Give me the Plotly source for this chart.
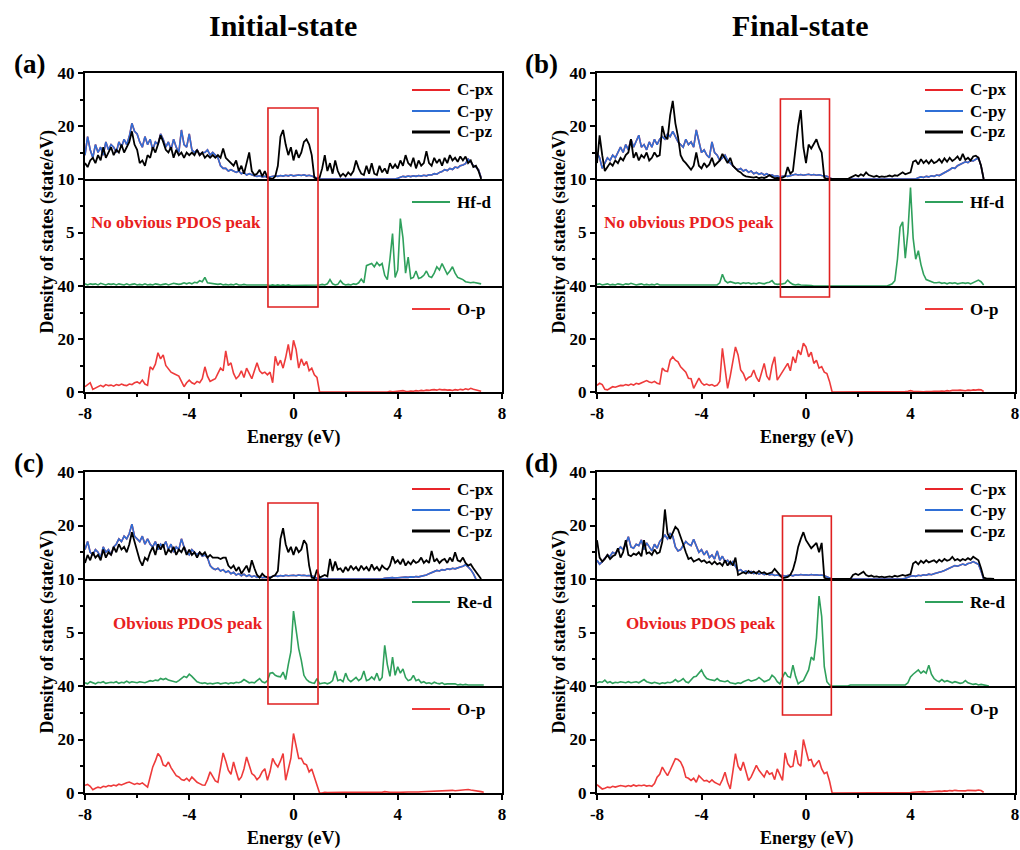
import plotly.graph_objects as go

# ---------------- data (energy grid in eV, PDOS in state/eV) ----------------
energy = [
    -8.0, -7.9, -7.8, -7.7, -7.6, -7.5, -7.4, -7.3, -7.2, -7.1,
    -7.0, -6.9, -6.8, -6.7, -6.6, -6.5, -6.4, -6.3, -6.2, -6.1,
    -6.0, -5.9, -5.8, -5.7, -5.6, -5.5, -5.4, -5.3, -5.2, -5.1,
    -5.0, -4.9, -4.8, -4.7, -4.6, -4.5, -4.4, -4.3, -4.2, -4.1,
    -4.0, -3.9, -3.8, -3.7, -3.6, -3.5, -3.4, -3.3, -3.2, -3.1,
    -3.0, -2.9, -2.8, -2.7, -2.6, -2.5, -2.4, -2.3, -2.2, -2.1,
    -2.0, -1.9, -1.8, -1.7, -1.6, -1.5, -1.4, -1.3, -1.2, -1.1,
    -1.0, -0.9, -0.8, -0.7, -0.6, -0.5, -0.4, -0.3, -0.2, -0.1,
    0.0, 0.1, 0.2, 0.3, 0.4, 0.5, 0.6, 0.7, 0.8, 0.9,
    1.0, 1.1, 1.2, 1.3, 1.4, 1.5, 1.6, 1.7, 1.8, 1.9,
    2.0, 2.1, 2.2, 2.3, 2.4, 2.5, 2.6, 2.7, 2.8, 2.9,
    3.0, 3.1, 3.2, 3.3, 3.4, 3.5, 3.6, 3.7, 3.8, 3.9,
    4.0, 4.1, 4.2, 4.3, 4.4, 4.5, 4.6, 4.7, 4.8, 4.9,
    5.0, 5.1, 5.2, 5.3, 5.4, 5.5, 5.6, 5.7, 5.8, 5.9,
    6.0, 6.1, 6.2, 6.3, 6.4, 6.5, 6.6, 6.7, 6.8, 6.9,
    7.0, 7.1, 7.2, 7.3, 7.4, 7.5, 7.6, 7.7, 7.8, 7.9,
]

# ----- (a) initial state, Hf -----
a_cpy = [
    9, 16, 11, 8, 13, 10, 12, 9, 14, 11,
    13, 12, 10, 14, 12, 15, 13, 16, 21, 18,
    17, 14, 12, 16, 13, 15, 11, 14, 13, 17,
    15, 12, 14, 11, 15, 12, 10, 18.5, 13, 12,
    17, 11, 10, 11, 9, 10, 10, 11, 9, 10,
    9, 8, 5, 4, 4, 3, 3.5, 3, 2.5, 3,
    2, 2.5, 1.5, 2, 1.5, 1.2, 1, 1.2, 0.8, 1,
    0.6, 0.8, 1, 1.2, 1, 1.3, 1.1, 1.4, 1.2, 1.5,
    1.2, 1.4, 1.5, 1.3, 1.6, 1.2, 1.4, 1.1, 0.8, 0.5,
    0, 0, 0, 0, 0, 0, 0, 0, 0, 0,
    0, 0, 0, 0, 0, 0, 0, 0, 0, 0,
    0, 0, 0, 0, 0, 0, 0, 0, 0, 0,
    0.3, 0.8, 1, 0.8, 1.1, 0.9, 1.2, 1, 1.3, 1.1,
    1.4, 1.2, 1.6, 1.5, 2, 1.8, 2.5, 2.8, 3.5, 3.2,
    4, 3.6, 4.5, 4.2, 5, 5.3, 5.8, 7.5, 6.5, 5,
    4.5, 3.5, 0.5,
]
a_cpz = [
    6, 4.5, 7, 8, 6, 9, 7, 12, 8, 10,
    12, 9, 11, 10, 13, 10, 12, 14, 18, 13,
    11, 6, 7, 5, 9, 8, 12, 10, 13, 16.5,
    14, 11, 10, 12, 8, 11, 9, 10, 8, 10,
    9, 10, 9, 11, 9, 10, 8, 9, 8, 9,
    8, 9, 8, 11.5, 8, 7, 6, 5, 7, 3,
    5, 2, 6, 10, 3, 1.5, 2, 3.5, 1, 3,
    0.5, 0.2, 0, 1, 5, 16, 18.5, 13, 9, 12,
    7, 11, 8, 10, 14, 15, 13, 9, 0.5, 0,
    0.5, 4, 9, 3, 6, 2, 7, 3, 1, 2,
    1, 2.5, 1.5, 3, 7, 4, 2, 1.5, 5, 2,
    6, 2, 1.5, 5, 2.5, 4, 2, 6, 4, 5.5,
    4, 7, 5, 9, 6, 5, 8, 4, 7, 5,
    6, 10.5, 6, 5, 8, 6, 7.5, 5, 8, 6,
    9, 7, 8, 6.5, 8.5, 7, 8.5, 6, 7, 4.5,
    5, 3, 0,
]
a_hfd = [
    0.2, 0.1, 0.2, 0.15, 0.2, 0.1, 0.25, 0.15, 0.1, 0.2,
    0.15, 0.2, 0.1, 0.2, 0.15, 0.1, 0.2, 0.1, 0.15, 0.2,
    0.1, 0.15, 0.1, 0.2, 0.1, 0.15, 0.1, 0.2, 0.15, 0.1,
    0.15, 0.2, 0.1, 0.15, 0.25, 0.2, 0.15, 0.2, 0.3, 0.2,
    0.3, 0.2, 0.35, 0.3, 0.5, 0.4, 0.8, 0.3, 0.25, 0.2,
    0.2, 0.15, 0.2, 0.1, 0.15, 0.1, 0.15, 0.1, 0.2, 0.1,
    0.1, 0.15, 0.1, 0.1, 0.15, 0.1, 0.1, 0.15, 0.1, 0.1,
    0.1, 0.05, 0.1, 0.05, 0.1, 0.05, 0.1, 0.05, 0.1, 0.05,
    0.05, 0.1, 0.05, 0.1, 0.05, 0.1, 0.05, 0.1, 0.05, 0.1,
    0.1, 0.15, 0.1, 0.2, 0.6, 0.2, 0.1, 0.15, 0.5, 0.2,
    0.1, 0.15, 0.1, 0.2, 0.15, 0.3, 0.65, 0.3, 1.9, 2.0,
    2.1, 1.8, 2.2, 1.9, 2.1, 1.0, 0.6, 2.5, 4.9, 0.8,
    1.5, 6.3, 4.5, 1.2, 2.7, 0.7, 0.8, 1.4, 0.7, 0.8,
    1.0, 1.4, 0.9, 0.8, 1.2, 1.8, 1.5, 2.1, 1.6, 1.1,
    1.4, 1.8, 1.2, 0.8, 0.7, 0.6, 0.4, 0.35, 0.3, 0.35,
    0.3, 0.25, 0.2,
]
a_op = [
    2, 2.8, 3.5, 1, 1.5, 2.2, 2.5, 2, 2.8, 2.4,
    2.6, 2.2, 2.8, 2.5, 3.0, 2.6, 2.4, 3.0, 2.8, 3.5,
    3.8, 3.2, 4.5, 3.0, 2.5, 9.5, 8.5, 10.5, 14.8, 12.5,
    14, 10, 8.5, 7.5, 7, 6.5, 6, 4, 2, 3.5,
    4.5, 3.5, 3, 4, 3.5, 5, 9.5, 6, 4, 4.5,
    5, 7, 9, 8, 15.5, 10, 11, 7, 5, 6,
    8, 5.5, 9, 7, 5, 8, 11, 8, 7, 7.5,
    6.5, 7.5, 3.5, 13.5, 10, 12, 9, 13, 18, 12,
    19.5, 16, 9, 12.5, 10, 11.5, 8, 9, 6.5, 5.5,
    0, 0, 0, 0, 0, 0, 0, 0, 0, 0,
    0, 0, 0, 0, 0, 0, 0, 0, 0, 0,
    0, 0, 0, 0, 0, 0, 0, 0.3, 0.1, 0.2,
    0.3, 0.2, 0.5, 0.3, 0.2, 0.4, 0.3, 0.5, 0.4, 0.6,
    0.5, 0.7, 0.6, 0.8, 0.9, 0.7, 1.0, 0.8, 0.9, 0.7,
    0.8, 0.6, 0.9, 0.7, 1.0, 0.8, 1.2, 0.9, 1.4, 1.0,
    0.8, 0.6, 0.3,
]

# ----- (b) final state, Hf -----
b_cpy = [
    10, 8, 4, 6, 8, 7, 9, 8, 10, 12,
    10, 13, 11, 15, 12, 14, 16.5, 12, 13, 11,
    14, 12, 15, 13, 15, 16, 15, 17, 16, 18,
    16, 14, 13, 12, 15, 13, 14, 12, 18.5, 14,
    10, 11, 9, 8, 14, 10, 9, 7, 8, 9,
    7, 6, 5, 4, 3.5, 4, 3, 3.5, 2.5, 3,
    2, 2.5, 1.8, 2.2, 1.5, 2, 1.3, 1.6, 1, 1.2,
    0.8, 1, 1.2, 1, 1.3, 1.5, 1.8, 1.5, 1.7, 1.4,
    1.6, 1.8, 1.5, 1.7, 1.4, 1.6, 1.3, 1.2, 1.0, 0.5,
    0, 0, 0, 0, 0, 0, 0, 0, 0, 0,
    0, 0, 0, 0, 0, 0, 0, 0, 0, 0,
    0, 0, 0, 0, 0, 0, 0, 0, 0, 0,
    0, 0, 0, 0.5, 0.8, 0.6, 1, 0.8, 1.2, 1,
    1.5, 1.3, 1.8, 2.2, 2.8, 3.5, 4.2, 4, 5, 5.5,
    5.8, 6.5, 6.2, 7, 6.8, 7.5, 8, 5, 0,
]
b_cpz = [
    6, 16.5, 9, 3, 4.5, 6, 5, 7, 6, 8,
    7, 9, 10, 15, 8, 10, 7, 9, 8, 10,
    7, 8, 10, 8.5, 9, 20, 16, 15, 24, 29.5,
    21, 16, 9, 7, 6, 4.5, 3.5, 5, 10, 5,
    4, 6, 4.5, 5.5, 8, 5, 6, 7, 9.5, 8,
    6, 8, 5, 4, 3, 2.5, 1.5, 1, 0.8, 0.5,
    0.5, 0.8, 0.3, 0.6, 0.4, 0.8, 1.5, 0.8, 0.3, 0.4,
    0.3, 0.5, 1, 4.5, 2, 3, 12, 20, 26, 12,
    6, 13, 11.5, 13, 15, 12, 10, 0.5, 0, 0,
    0, 0, 0, 0, 0, 0, 0, 0.5, 1, 1.5,
    1, 1.8, 1.2, 2.5, 1.5, 1, 0.8, 1.2, 0.7, 1,
    0.8, 1, 1.3, 0.9, 1.4, 1.2, 1.8, 2.5, 1.8, 2.2,
    2.5, 6.5, 7, 5.5, 7.5, 6, 7, 5.8, 7.2, 6,
    6.5, 7.5, 6.2, 7.8, 6.5, 8, 6.8, 7.5, 8.5, 7,
    9.5, 7.2, 8, 7, 8.5, 8.8, 8, 5, 0,
]
b_hfd = [
    0.15, 0.2, 0.1, 0.15, 0.2, 0.1, 0.15, 0.1, 0.2, 0.15,
    0.1, 0.2, 0.15, 0.25, 0.2, 0.1, 0.15, 0.2, 0.1, 0.15,
    0.1, 0.15, 0.1, 0.2, 0.1, 0.1, 0.15, 0.1, 0.1, 0.15,
    0.1, 0.1, 0.15, 0.1, 0.1, 0.15, 0.1, 0.1, 0.1, 0.15,
    0.1, 0.1, 0.15, 0.1, 0.1, 0.15, 0.1, 0.3, 1.1, 0.5,
    0.3, 0.4, 0.3, 0.25, 0.3, 0.2, 0.3, 0.25, 0.3, 0.2,
    0.25, 0.2, 0.3, 0.25, 0.2, 0.3, 0.35, 0.5, 0.2, 0.15,
    0.15, 0.2, 0.25, 0.55, 0.3, 0.15, 0.1, 0.15, 0.1, 0.1,
    0.1, 0.05, 0.05, 0, 0, 0, 0, 0, 0, 0,
    0, 0, 0, 0, 0, 0, 0, 0, 0, 0,
    0, 0, 0, 0, 0, 0, 0, 0, 0, 0,
    0, 0, 0.1, 0.2, 0.5, 2.5, 5.5, 6, 2.6, 5,
    9.2, 4.5, 2.5, 3.3, 2.0, 1.1, 0.6, 0.5, 0.4, 0.3,
    0.3, 0.35, 0.25, 0.3, 0.2, 0.3, 0.25, 0.3, 0.2, 0.25,
    0.3, 0.25, 0.3, 0.2, 0.3, 0.4, 0.55, 0.4, 0.1,
]
b_op = [
    2.5, 3.3, 2.8, 1, 0.8, 1.5, 2, 1.8, 2.2, 2.5,
    2.4, 2.8, 2.5, 3, 2.6, 3.3, 3, 3.5, 3.8, 4.3,
    3.8, 3.5, 4, 3.3, 3, 9, 8, 7.7, 12, 13.3,
    12, 11.4, 9.5, 8.3, 7.5, 5.2, 5, 1.4, 3.5, 5.2,
    3.5, 2.6, 3, 2.5, 2.8, 2.2, 2.6, 4, 16.5, 9,
    1.4, 6, 12, 17, 14, 8.3, 7, 4.5, 5.5, 6,
    8.3, 5.5, 3.9, 7, 10.8, 6, 4.5, 10, 13.3, 4.5,
    6, 7.7, 9.5, 10.8, 8, 13.3, 11, 15.8, 14, 18.4,
    17, 13.3, 15, 10.8, 12, 9, 9.6, 7.5, 7, 4,
    0, 0, 0, 0, 0, 0, 0, 0, 0, 0,
    0, 0, 0, 0, 0, 0, 0, 0, 0, 0,
    0, 0, 0, 0, 0, 0, 0, 0, 0.2, 0.3,
    0.5, 0.3, 0.2, 0.1, 0.2, 0.1, 0.2, 0.1, 0.2, 0.3,
    0.2, 0.3, 0.4, 0.3, 0.5, 0.4, 0.6, 0.5, 0.6, 0.7,
    0.6, 0.5, 0.7, 0.6, 0.8, 0.7, 0.9, 0.8, 0.2,
]

# ----- (c) initial state, Re -----
c_cpy = [
    11, 14, 10, 9, 11, 10, 8, 12, 10, 11,
    9, 12, 13, 15, 14, 16, 15, 17, 20.5, 16,
    15, 14, 16, 13, 15, 13, 12, 14, 11, 13,
    12, 14, 11, 13, 10, 12, 11, 15, 12, 10,
    9, 11, 10, 9, 10, 8.5, 9, 8, 5, 4,
    3.5, 4, 3, 3.5, 2.5, 3, 2, 2.5, 1.5, 2,
    1.2, 1.8, 1, 1.5, 0.8, 1.2, 0.6, 0.9, 0.5, 0.7,
    0.5, 0.8, 1, 1.2, 1, 1.3, 1.1, 1.4, 1.2, 1.3,
    1.4, 1.2, 1.5, 1.3, 1.4, 1.2, 1.3, 1.1, 0.8, 0.2,
    0, 0, 0, 0, 0, 0, 0, 0, 0, 0,
    0, 0, 0, 0, 0, 0, 0, 0, 0, 0,
    0, 0, 0, 0, 0, 0.3, 0.4, 0.3, 0.5, 0.4,
    0.5, 0.6, 0.5, 0.7, 0.6, 0.8, 0.7, 0.9, 0.8, 1,
    1.2, 1.5, 2, 2.5, 2.8, 3.2, 3, 3.5, 3.3, 3.8,
    3.6, 4, 3.8, 4.3, 4.5, 4.8, 5.3, 4.5, 3.5, 2,
    0,
]
c_cpz = [
    6, 9, 7, 10, 8, 9, 7, 11, 8, 10,
    9, 12, 10, 13, 11, 12, 10, 13, 17.5, 14,
    10, 7, 5, 8, 7, 10, 12, 9, 13, 11,
    13, 9, 11, 10, 12, 9, 11, 10, 12, 9,
    11, 9, 10, 8, 10, 9, 10, 8, 9, 8,
    8, 8, 7.5, 8, 8, 5, 4, 5, 3, 4.5,
    2, 3.5, 5, 2.5, 7, 4, 1.5, 0.5, 2, 1,
    0.5, 0.3, 1, 1.5, 3, 15, 19, 13, 10, 12,
    9, 12, 10, 11, 14.5, 13, 5, 0.5, 0.3, 3.5,
    0.5, 1, 1.5, 1, 7.5, 3, 6.5, 3.5, 4, 2.5,
    4.5, 3, 5, 3.5, 4.5, 3, 5, 3.5, 4.5, 3,
    5.5, 3.5, 4.5, 3, 5, 4, 3.5, 5, 8.5, 6,
    7, 5.5, 7.5, 5, 6.5, 5.5, 7, 6, 6.5, 8,
    6, 7, 6, 10.5, 6.5, 7.5, 6, 7, 7.5, 6,
    8, 6.5, 10, 7, 6.5, 8, 6, 5, 5.5, 4,
    2.5, 1, 0,
]
c_red = [
    0.3, 0.2, 0.4, 0.3, 0.2, 0.35, 0.3, 0.4, 0.25, 0.3,
    0.35, 0.3, 0.4, 0.25, 0.35, 0.3, 0.45, 0.3, 0.4, 0.35,
    0.3, 0.4, 0.35, 0.3, 0.4, 0.5, 0.45, 0.55, 0.5, 0.7,
    0.6, 0.7, 0.55, 0.5, 0.4, 0.35, 0.5, 0.7, 0.9, 0.8,
    1.1, 0.9, 0.6, 0.4, 0.3, 0.25, 0.3, 0.2, 0.25, 0.2,
    0.25, 0.3, 0.2, 0.25, 0.3, 0.2, 0.3, 0.25, 0.35, 0.3,
    0.4, 0.6, 0.45, 0.3, 0.35, 0.3, 0.5, 0.7, 0.4, 0.3,
    0.5, 1.2, 1.25, 1.0, 0.9, 0.85, 1.3, 0.6, 2.0, 3.2,
    7.0, 5.2, 3.5, 2.4, 1.0, 0.6, 0.4, 0.3, 0.25, 0.7,
    0.2, 0.25, 0.3, 0.2, 0.3, 0.5, 1.4, 0.5, 0.6, 0.4,
    1.2, 0.6, 0.4, 0.6, 0.8, 0.5, 0.7, 1.4, 0.5, 0.6,
    0.85, 0.6, 1.2, 0.5, 0.8, 3.8, 2.0, 0.9, 2.7, 1.0,
    1.8, 1.2, 1.6, 0.8, 0.5, 0.6, 1.0, 0.5, 0.6, 0.3,
    0.4, 0.25, 0.3, 0.2, 0.35, 0.25, 0.2, 0.3, 0.15, 0.2,
    0.2, 0.15, 0.2, 0.1, 0.15, 0.1, 0.15, 0.1, 0.1, 0.15,
    0.1, 0.1, 0.15, 0.1,
]
c_op = [
    2.9, 3.2, 2.5, 1.25, 1.8, 2.2, 1.9, 2.5, 2.3, 2.8,
    2.6, 3, 2.7, 3.3, 3, 3.5, 3.8, 4.1, 3.5, 3.2,
    3.6, 3.3, 3.8, 3, 2.2, 6, 9.75, 12, 14.75, 13.5,
    10.5, 10, 11.6, 9.5, 7.9, 6.5, 6, 5, 4.75, 5.5,
    4.5, 6, 5, 4, 3.5, 3, 2.9, 5, 7.9, 6,
    4.5, 4, 9, 15, 12, 8.5, 7, 11.6, 8, 4.75,
    6, 9, 13.5, 10, 7.25, 6.5, 5, 6, 8, 9.1,
    4.75, 8, 12.9, 11, 9.75, 12, 14.75, 4.75, 9, 13,
    22.25, 17, 12.9, 13, 11, 10.5, 7.9, 9, 6, 3,
    0, 0, 0.3, 0.2, 0.25, 0.2, 0.3, 0.25, 0.2, 0.3,
    0.25, 0.2, 0.3, 0.2, 0.25, 0.3, 0.2, 0.25, 0.3, 0.2,
    0.25, 0.3, 0.2, 0.3, 0.25, 0.5, 0.3, 0.25, 0.3, 0.4,
    0.3, 0.25, 0.35, 0.3, 0.4, 0.35, 0.3, 0.4, 0.35, 0.45,
    0.5, 0.6, 0.7, 0.8, 0.75, 0.9, 0.85, 0.95, 0.9, 1.0,
    0.9, 1.0, 0.85, 0.95, 1.1, 1.0, 1.2, 1.3, 1.1, 1.0,
    0.8, 0.6, 0.5, 0.3,
]

# ----- (d) final state, Re -----
d_cpy = [
    7, 5.5, 6.5, 8, 9, 8.5, 10, 9.5, 11, 12,
    11, 13, 15.8, 12, 11.5, 13, 12.5, 14.6, 11, 13.5,
    12, 10.5, 13, 11.5, 14, 15, 16.4, 15, 17, 16,
    12, 10.5, 11, 12.5, 14, 13, 12.5, 14.8, 12, 10,
    11, 9, 10.5, 8, 9, 7.5, 10.5, 7, 8.5, 6.5,
    7, 5.5, 6.5, 4.5, 3, 3.5, 2.5, 3, 2.2, 2.8,
    2, 2.5, 1.8, 2.2, 1.6, 2, 1.5, 1.8, 1.3, 1.5,
    1.2, 1.4, 1, 1.3, 1.5, 1.2, 1.6, 1.4, 1.7, 1.5,
    1.6, 1.4, 1.7, 1.5, 1.6, 1.4, 1.5, 1.2, 0.8, 0.3,
    0, 0, 0, 0, 0, 0, 0, 0, 0, 0,
    0, 0, 0, 0, 0, 0, 0, 0, 0, 0,
    0, 0, 0, 0, 0, 0, 0, 0, 0.3, 0.8,
    1, 1.2, 1, 1.4, 1.2, 1.6, 1.4, 1.8, 1.6, 2,
    2.2, 2.5, 2.8, 3.2, 3.6, 4.2, 4.6, 5, 4.8, 5.3,
    5.6, 5.2, 5.8, 6, 6.5, 6, 5.5, 3, 0,
]
d_cpz = [
    14.5, 8, 6.5, 7.5, 9, 7.5, 8.5, 9, 11.5, 8,
    10, 14.5, 9, 8.5, 9.5, 9, 10, 8.5, 14.5, 9.5,
    10, 9, 11, 9.5, 10, 14, 26, 17, 15, 17,
    19.5, 18.5, 16, 13, 10, 7.5, 8, 6.5, 7, 7.5,
    6.5, 7, 6, 6.5, 5.5, 6.5, 5.5, 6, 5, 7,
    5, 6.5, 5, 8, 1.5, 2, 2.5, 2, 3, 2.2,
    2.8, 2, 3, 2.2, 2.5, 1.8, 2.2, 2.5, 3.8, 2.5,
    1.5, 0.3, 0.5, 0.8, 1.5, 3.5, 7, 12, 15, 17.5,
    14.5, 13, 11.5, 12.5, 13.5, 10, 13.5, 0.5, 0, 0,
    0, 0, 0, 0, 0, 0, 0, 0, 1.5, 2,
    1.5, 2, 2.7, 1.5, 1, 1.3, 0.8, 1, 0.7, 0.9,
    0.6, 0.8, 1, 0.7, 1.2, 0.9, 1.1, 1.5, 1.2, 1.4,
    1.8, 5.8, 6.5, 5.5, 6.8, 6, 7, 6.2, 6.5, 7,
    6.2, 7.2, 6.5, 7.5, 6.8, 7.2, 8.3, 7, 7.5, 6.8,
    7.5, 7, 7.8, 7.2, 8.3, 7.5, 7, 4, 0.5, 0.2,
    0.2, 0.1, 0,
]
d_red = [
    0.3, 0.4, 0.35, 0.55, 0.3, 0.4, 0.25, 0.35, 0.3, 0.4,
    0.35, 0.3, 0.4, 0.3, 0.35, 0.4, 0.3, 0.45, 0.6, 0.4,
    0.3, 0.25, 0.35, 0.3, 0.2, 0.3, 0.25, 0.35, 0.3, 0.4,
    0.6, 0.4, 0.5, 0.7, 0.4, 0.3, 0.6, 0.85, 0.9, 1.2,
    1.5, 1.0, 0.7, 0.6, 0.55, 0.5, 0.7, 0.5, 0.45, 0.4,
    0.5, 0.3, 0.25, 0.2, 0.3, 0.25, 0.4, 0.5, 0.6, 0.45,
    0.55, 0.6, 0.8, 0.6, 0.4, 0.5, 0.6, 1.0, 0.8, 0.4,
    0.2, 0.8, 1.3, 0.9, 0.8, 1.95, 0.9, 0.2, 0.4, 0.5,
    1.0, 1.5, 2.7, 2.4, 4.5, 8.4, 6.5, 1.8, 0.4, 0.1,
    0, 0, 0, 0, 0, 0, 0, 0.1, 0.1, 0.1,
    0.1, 0.1, 0.1, 0.1, 0.1, 0.1, 0.1, 0.1, 0.1, 0.1,
    0.1, 0.1, 0.1, 0.1, 0.1, 0.1, 0.1, 0.1, 0.1, 0.3,
    0.85, 1.1, 1.3, 1.5, 1.2, 1.4, 1.2, 1.95, 1.1, 0.7,
    0.5, 0.4, 0.6, 0.4, 0.5, 0.4, 0.3, 0.4, 0.3, 0.25,
    0.3, 0.5, 0.3, 0.2, 0.15, 0.2, 0.1, 0.15, 0.1, 0.05,
    0,
]
d_op = [
    3.1, 2.2, 1.5, 1.8, 2.2, 2, 2.5, 2.2, 2.4, 2.8,
    2.6, 2.4, 2.8, 2.5, 3, 2.6, 2.9, 2.7, 3, 2.6,
    2.8, 2.5, 3.5, 5.9, 7, 9.7, 8, 6.5, 8.5, 10.5,
    12.8, 12.5, 11.6, 9.5, 5.9, 5.5, 4.7, 5.5, 4, 6.5,
    5.5, 4.5, 4.7, 4, 4.9, 4, 3.5, 3, 5, 7.8,
    4, 1.5, 8, 14.7, 10, 8.4, 11.6, 8, 4.7, 6,
    8, 10.3, 8.5, 7.2, 6, 8.4, 7, 7.5, 5, 9,
    7, 4.7, 15, 11, 9.7, 10, 16, 11, 10, 20,
    16, 12.2, 12.5, 9.7, 11, 12.2, 9, 7.2, 7.8, 4.5,
    0, 0, 0, 0, 0, 0, 0, 0, 0, 0,
    0, 0, 0, 0, 0, 0, 0, 0, 0, 0,
    0, 0, 0, 0, 0, 0, 0, 0, 0, 0,
    0.2, 0.3, 0.4, 0.3, 0.4, 0.5, 0.4, 0.5, 0.6, 0.5,
    0.6, 0.7, 0.6, 0.8, 0.7, 0.9, 0.8, 1.0, 0.9, 0.8,
    0.9, 0.8, 1.0, 0.9, 0.8, 0.9, 1.1, 0.9, 0.3,
]

x_ticks = [-8, -4, 0, 4, 8]
x_ticklabels = ["-8", "-4", "0", "4", "8"]
col_titles = ["Initial-state", "Final-state"]


def pad(v):
    """Series stop where the curve ends; fill the rest of the grid with gaps."""
    return list(v) + [None] * (len(energy) - len(v))


# ---------------- layout geometry (pixels) ----------------
W, H = 1020, 850
FONT = "Liberation Serif, Times New Roman, serif"
RED_PX = "#e8252a"
BLUE = "#2f6fd6"
GREEN = "#2fa05c"
RED_OP = "#ee3a3a"


def fx(p):
    return p / W


def fy(p):
    return 1 - p / H


panels = [
    dict(label="(a)", metal="Hf-d", note="No obvious PDOS peak", x0=85, x1=502,
         rows=(73, 179, 286, 392), cpy=a_cpy, cpz=a_cpz, md=a_hfd, op=a_op,
         box=(-0.98, 0.94, 108, 307), note_dx=91),
    dict(label="(b)", metal="Hf-d", note="No obvious PDOS peak", x0=597, x1=1015,
         rows=(73, 179, 286, 392), cpy=b_cpy, cpz=b_cpz, md=b_hfd, op=b_op,
         box=(-0.98, 0.90, 99, 297), note_dx=92),
    dict(label="(c)", metal="Re-d", note="Obvious PDOS peak", x0=85, x1=502,
         rows=(472, 579, 686, 793), cpy=c_cpy, cpz=c_cpz, md=c_red, op=c_op,
         box=(-0.98, 0.94, 503, 704), note_dx=103),
    dict(label="(d)", metal="Re-d", note="Obvious PDOS peak", x0=597, x1=1015,
         rows=(472, 579, 686, 793), cpy=d_cpy, cpz=d_cpz, md=d_red, op=d_op,
         box=(-0.90, 0.97, 516, 715), note_dx=104),
]

fig = go.Figure()
layout = {}
shapes = []
annotations = []

tickfont = dict(family=FONT, size=17, color="black", weight="bold")


def afont(size, color="black"):
    return dict(family=FONT, size=size, color=color, weight="bold")


for i, p in enumerate(panels):
    x0, x1 = p["x0"], p["x1"]
    t, d1, d2, b = p["rows"]
    doms = [(d1, t), (d2, d1), (b, d2)]
    yranges = [[0, 40], [0, 10], [0, 40]]
    ytv = [[20, 40], [5, 10], [0, 20, 40]]
    yminor = [[10, 30], [2.5, 7.5], [10, 30]]
    series = [
        [(p["cpy"], RED_PX, 1.6), (p["cpy"], BLUE, 1.6), (p["cpz"], "black", 1.8)],
        [(p["md"], GREEN, 1.6)],
        [(p["op"], RED_OP, 1.6)],
    ]
    for j in range(3):
        n = 3 * i + j + 1
        sx = "" if n == 1 else str(n)
        for vals, col, w in series[j]:
            fig.add_trace(go.Scatter(
                x=energy, y=pad(vals), mode="lines",
                line=dict(color=col, width=w),
                xaxis="x" + sx, yaxis="y" + sx, showlegend=False,
                hoverinfo="skip"))
        bottom = (j == 2)
        # top plot: frame lines top & bottom; lower plots: only their bottom line
        xa = dict(domain=[fx(x0), fx(x1)], anchor="y" + sx, range=[-8, 8],
                  showline=True, mirror=(j == 0), linecolor="black", linewidth=2,
                  showgrid=False, zeroline=False, automargin=False)
        if bottom:
            xa.update(tickvals=x_ticks, ticktext=x_ticklabels, ticks="outside",
                      ticklen=5, tickwidth=1.5,
                      tickcolor="black", tickfont=tickfont,
                      ticklabeloverflow="allow",
                      minor=dict(tickvals=[-6, -2, 2, 6], ticks="outside",
                                 ticklen=3, tickwidth=1.5, tickcolor="black"))
        else:
            xa.update(ticks="", showticklabels=False)
        ya = dict(domain=[fy(doms[j][0]), fy(doms[j][1])], anchor="x" + sx,
                  range=yranges[j], tickvals=ytv[j], ticks="outside", ticklen=5,
                  tickwidth=1.5, tickcolor="black", tickfont=tickfont,
                  showline=True, mirror=True, linecolor="black", linewidth=2,
                  showgrid=False, zeroline=False, automargin=False,
                  ticklabeloverflow="allow",
                  minor=dict(tickvals=yminor[j], ticks="outside", ticklen=3,
                             tickwidth=1.5, tickcolor="black"))
        layout["xaxis" + sx] = xa
        layout["yaxis" + sx] = ya

    # red highlight box spanning the three stacked plots
    bsx = str(3 * i + 3)
    bx0, bx1, by0, by1 = p["box"]
    shapes.append(dict(type="rect", xref="x" + bsx, yref="paper",
                       x0=bx0, x1=bx1, y0=fy(by1), y1=fy(by0),
                       line=dict(color="#e02020", width=1.6), fillcolor="rgba(0,0,0,0)"))

    # in-plot legends
    leg = [("C-px", RED_PX, t + 17, 2), ("C-py", BLUE, t + 38, 2),
           ("C-pz", "black", t + 59, 3), (p["metal"], GREEN, d1 + 23, 2),
           ("O-p", RED_OP, d2 + 23, 2)]
    for name, col, yy, lw in leg:
        shapes.append(dict(type="line", xref="paper", yref="paper",
                           x0=fx(x1 - 90), x1=fx(x1 - 52), y0=fy(yy), y1=fy(yy),
                           line=dict(color=col, width=lw)))
        annotations.append(dict(text=name, xref="paper", yref="paper",
                                x=fx(x1 - 47), y=fy(yy), xanchor="left",
                                yanchor="middle", showarrow=False, font=afont(17)))

    # note text
    annotations.append(dict(text=p["note"], xref="paper", yref="paper",
                            x=fx(x0 + p["note_dx"]), y=fy(d1 + 44),
                            xanchor="center", yanchor="middle", showarrow=False,
                            font=afont(17, "#e82020")))
    # panel letter
    annotations.append(dict(text=p["label"], xref="paper", yref="paper",
                            x=fx(x0 - 56), y=fy(t - 9), xanchor="center",
                            yanchor="middle", showarrow=False, font=afont(27)))
    # axis titles
    annotations.append(dict(text="Density of states (state/eV)", xref="paper",
                            yref="paper", x=fx(x0 - 38), y=fy((t + b) / 2),
                            xanchor="center", yanchor="middle", textangle=-90,
                            showarrow=False, font=afont(18)))
    annotations.append(dict(text="Energy (eV)", xref="paper", yref="paper",
                            x=fx((x0 + x1) / 2), y=fy(b + 45), xanchor="center",
                            yanchor="middle", showarrow=False, font=afont(18)))

# column titles
for k, title in enumerate(col_titles):
    annotations.append(dict(text=title, xref="paper", yref="paper",
                            x=fx([283, 800][k]), y=fy(25), xanchor="center",
                            yanchor="middle", showarrow=False, font=afont(30)))

fig.update_layout(**layout)
fig.update_layout(width=W, height=H, margin=dict(l=0, r=0, t=0, b=0),
                  paper_bgcolor="white", plot_bgcolor="white",
                  shapes=shapes, annotations=annotations,
                  font=dict(family=FONT, color="black"))

fig.write_html("out.html")
